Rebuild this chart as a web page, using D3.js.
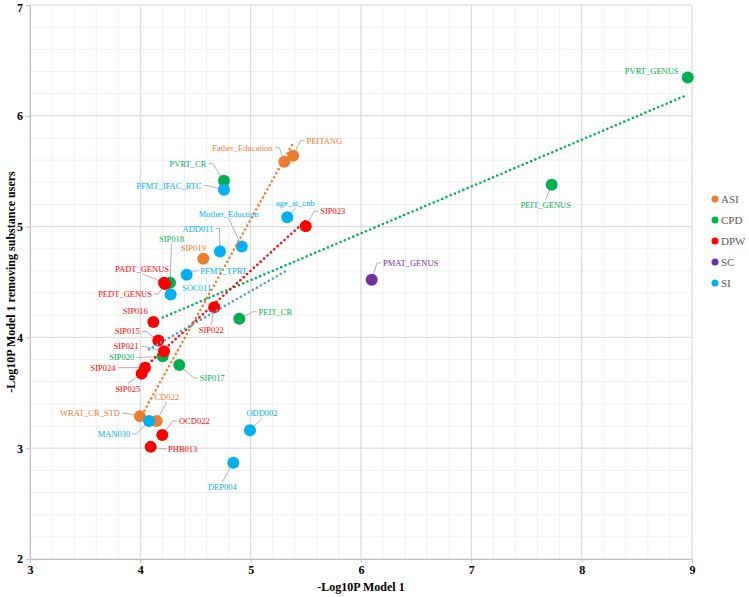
<!DOCTYPE html>
<html>
<head>
<meta charset="utf-8">
<script src="https://cdn.jsdelivr.net/npm/d3@7"></script>
<style>
  html, body { margin: 0; padding: 0; background: #fff; }
  svg { display: block; }
</style>
</head>
<body>
<svg id="chart" width="749" height="597"></svg>
<script>
// ---------------- DATA ----------------
const categories = ["ASI", "CPD", "DPW", "SC", "SI"];
const xTicks = [3, 4, 5, 6, 7, 8, 9];
const yTicks = [2, 3, 4, 5, 6, 7];
const xTitle = "-Log10P Model 1";
const yTitle = "-Log10P Model 1 removing substance users";

const pointNames = [
  "PEITANG", "Father_Education", "SIP019", "WRAT_CR_STD", "CD022",
  "PVRT_CR", "SIP018", "PEIT_CR", "SIP020", "SIP017", "PVRT_GENUS", "PEIT_GENUS",
  "SIP023", "PADT_GENUS", "PEDT_GENUS", "SIP016", "SIP022", "SIP015", "SIP021", "SIP024", "SIP025", "OCD022", "PHB013",
  "PMAT_GENUS",
  "PFMT_IFAC_RTC", "age_at_cnb", "Mother_Eduction", "ADD011", "PFMT_TPRT", "SOC011", "MAN030", "ODD002", "DEP004"
];
const pointCats = [
  "ASI", "ASI", "ASI", "ASI", "ASI",
  "CPD", "CPD", "CPD", "CPD", "CPD", "CPD", "CPD",
  "DPW", "DPW", "DPW", "DPW", "DPW", "DPW", "DPW", "DPW", "DPW", "DPW", "DPW",
  "SC",
  "SI", "SI", "SI", "SI", "SI", "SI", "SI", "SI", "SI"
];
const xValues = [
  5.386, 5.305, 4.571, 3.997, 4.148,
  4.758, 4.269, 4.897, 4.203, 4.353, 8.961, 7.728,
  5.499, 4.215, 4.224, 4.118, 4.670, 4.163, 4.215, 4.042, 4.012, 4.199, 4.094,
  6.097,
  4.758, 5.332, 4.919, 4.722, 4.420, 4.275, 4.079, 4.994, 4.843
];
const yValues = [
  5.640, 5.586, 4.709, 3.288, 3.246,
  5.414, 4.493, 4.168, 3.829, 3.750, 6.345, 5.378,
  5.003, 4.493, 4.482, 4.138, 4.273, 3.973, 3.874, 3.727, 3.673, 3.120, 3.012,
  4.520,
  5.333, 5.084, 4.820, 4.775, 4.565, 4.387, 3.246, 3.162, 2.868
];

// ---------------- STYLE / LAYOUT ----------------
const catColors = { ASI: "#ED7D31", CPD: "#00B050", DPW: "#FF0000", SC: "#7030A0", SI: "#00B0F0" };
const trendColors = { ASI: "#ED7D31", CPD: "#00B050", DPW: "#FF0000", SI: "#5B9BD5" };
// label offsets in pixels (text centre relative to marker)
const labelOffsets = {
  PEITANG: [31, -15], Father_Education: [-42, -14], SIP019: [-10, -11], WRAT_CR_STD: [-50, -3], CD022: [10, -24],
  PVRT_CR: [-36, -17], SIP018: [1.5, -44], PEIT_CR: [36, -7], SIP020: [-41, 1], SIP017: [33, 13],
  PVRT_GENUS: [-36, -7], PEIT_GENUS: [-6, 20],
  SIP023: [27, -15], PADT_GENUS: [-22, -14], PEDT_GENUS: [-40, 10], SIP016: [-18, -11], SIP022: [-3, 23],
  SIP015: [-31, -9], SIP021: [-38, -5], SIP024: [-42, 0], SIP025: [-14, 15], OCD022: [32, -14], PHB013: [32, 2],
  PMAT_GENUS: [39, -17],
  PFMT_IFAC_RTC: [-55, -4], age_at_cnb: [8, -14], Mother_Eduction: [-13, -33], ADD011: [-22, -23],
  PFMT_TPRT: [37, -4], SOC011: [26, -7], MAN030: [-35, 13], ODD002: [12, -17], DEP004: [-11, 24]
};

const serif = "'Liberation Serif', 'Times New Roman', serif";
const svg = d3.select("#chart");

const x = d3.scaleLinear().domain([3, 9]).range([30, 692]);
const y = d3.scaleLinear().domain([2, 7]).range([559, 5]);

const points = pointNames.map((n, i) => ({ name: n, cat: pointCats[i], x: xValues[i], y: yValues[i] }));

// ---------------- GRID ----------------
const grid = svg.append("g");
const minorX = d3.range(3, 9.001, 0.2);
const minorY = d3.range(2, 7.001, 0.2);
grid.selectAll(".mx").data(minorX).join("line")
  .attr("x1", d => x(d)).attr("x2", d => x(d)).attr("y1", y(2)).attr("y2", y(7))
  .attr("stroke", "#f0f0f0").attr("stroke-width", 1);
grid.selectAll(".my").data(minorY).join("line")
  .attr("y1", d => y(d)).attr("y2", d => y(d)).attr("x1", x(3)).attr("x2", x(9))
  .attr("stroke", "#f0f0f0").attr("stroke-width", 1);
grid.selectAll(".Mx").data(xTicks).join("line")
  .attr("x1", d => x(d)).attr("x2", d => x(d)).attr("y1", y(2)).attr("y2", y(7))
  .attr("stroke", "#d9d9d9").attr("stroke-width", 1);
grid.selectAll(".My").data(yTicks).join("line")
  .attr("y1", d => y(d)).attr("y2", d => y(d)).attr("x1", x(3)).attr("x2", x(9))
  .attr("stroke", "#d9d9d9").attr("stroke-width", 1);

// ---------------- AXES ----------------
const xAxis = svg.append("g").attr("transform", `translate(0,${y(2)})`)
  .call(d3.axisBottom(x).tickValues(xTicks).tickSize(4).tickFormat(d3.format("d")));
const yAxis = svg.append("g").attr("transform", `translate(${x(3)},0)`)
  .call(d3.axisLeft(y).tickValues(yTicks).tickSize(4).tickFormat(d3.format("d")));
[xAxis, yAxis].forEach(a => {
  a.select(".domain").attr("stroke", "#bfbfbf");
  a.selectAll(".tick line").attr("stroke", "#bfbfbf");
  a.selectAll(".tick text").attr("font-family", serif).attr("font-size", 12)
    .attr("font-weight", "bold").attr("fill", "#000");
});
xAxis.selectAll(".tick text").attr("y", 6).attr("dy", "0.71em");
yAxis.select(".tick:last-of-type text").attr("dy", "0.5em");

svg.append("text").attr("x", 361).attr("y", 591).attr("text-anchor", "middle")
  .attr("font-family", serif).attr("font-size", 12).attr("font-weight", "bold").text(xTitle);
svg.append("text").attr("transform", `translate(11,${(y(2) + y(7)) / 2}) rotate(-90)`)
  .attr("text-anchor", "middle").attr("dominant-baseline", "central")
  .attr("font-family", serif).attr("font-size", 12).attr("font-weight", "bold").text(yTitle);

// ---------------- LABELS + LEADERS ----------------
const R = 6;
const leaderG = svg.append("g");
const pointG = svg.append("g");
const trendG = svg.append("g");
const labelG = svg.append("g");

points.forEach(p => {
  const px = x(p.x), py = y(p.y);
  const [dx, dy] = labelOffsets[p.name] || [0, -14];
  const t = labelG.append("text").attr("x", px + dx).attr("y", py + dy)
    .attr("text-anchor", "middle").attr("dominant-baseline", "central")
    .attr("font-family", serif).attr("font-size", 8.5).attr("fill", catColors[p.cat]).text(p.name);
  const bb = t.node().getBBox();
  let pts;
  if (Math.abs(dx) > bb.width / 2 + 4) {
    const ax = dx < 0 ? bb.x + bb.width + 2 : bb.x - 2;
    const ay = py + dy;
    const ex = ax + (px > ax ? 4 : -4);
    pts = [[ax, ay], [ex, ay], [px, py]];
  } else {
    const ax = px + dx;
    const ay = dy < 0 ? bb.y + bb.height : bb.y;
    pts = [[ax, ay], [px, py]];
  }
  const a = pts[0];
  if (Math.hypot(a[0] - px, a[1] - py) > R + 6) {
    leaderG.append("path").attr("d", d3.line()(pts)).attr("fill", "none")
      .attr("stroke", "#a6a6a6").attr("stroke-width", 0.9);
  }
});

// ---------------- POINTS ----------------
pointG.selectAll("circle").data(points).join("circle")
  .attr("cx", d => x(d.x)).attr("cy", d => y(d.y)).attr("r", R)
  .attr("fill", d => catColors[d.cat]);

// ---------------- TRENDLINES (linear regression per category) ----------------
Object.keys(trendColors).forEach(cat => {
  const ps = points.filter(p => p.cat === cat);
  const mx = d3.mean(ps, p => p.x), my = d3.mean(ps, p => p.y);
  const sxy = d3.sum(ps, p => (p.x - mx) * (p.y - my));
  const sxx = d3.sum(ps, p => (p.x - mx) ** 2);
  const b = sxy / sxx, a0 = my - b * mx;
  const [x0, x1] = d3.extent(ps, p => p.x);
  trendG.append("line")
    .attr("x1", x(x0)).attr("y1", y(a0 + b * x0))
    .attr("x2", x(x1)).attr("y2", y(a0 + b * x1))
    .attr("stroke", trendColors[cat]).attr("stroke-width", 2.6)
    .attr("stroke-linecap", "round").attr("stroke-dasharray", "0,4.6");
});

// ---------------- LEGEND ----------------
const legend = svg.append("g");
categories.forEach((c, i) => {
  const ly = 199 + i * 21;
  legend.append("circle").attr("cx", 715).attr("cy", ly).attr("r", 3.5).attr("fill", catColors[c]);
  legend.append("text").attr("x", 721).attr("y", ly).attr("dominant-baseline", "central")
    .attr("font-family", serif).attr("font-size", 11).attr("fill", "#595959").text(c);
});
</script>
</body>
</html>
